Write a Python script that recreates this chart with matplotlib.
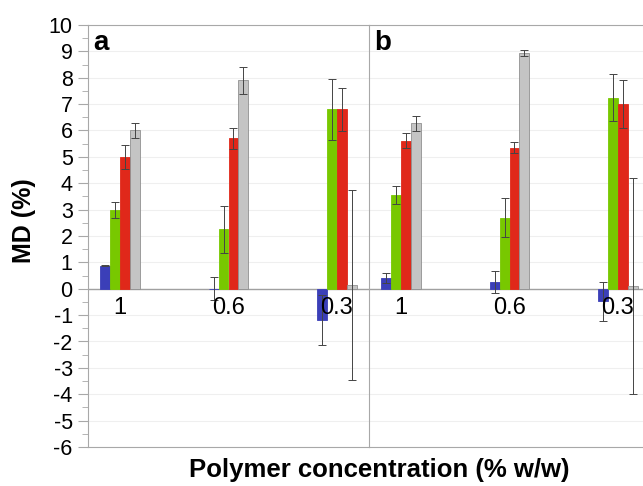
import matplotlib.pyplot as plt
import numpy as np

plt.rcParams['font.family'] = ['Liberation Sans', 'DejaVu Sans']
plt.rcParams['axes.unicode_minus'] = False

# polymer concentrations (% w/w)
categories = ['1', '0.6', '0.3']
colors = ['#3b3fb8', '#78c800', '#e0281a', '#c4c4c4']

# panel a: MD (%) per series, and error bars
a_vals = [[0.88, 0.0, -1.2],
          [3.0, 2.25, 6.8],
          [5.0, 5.7, 6.8],
          [6.0, 7.9, 0.15]]
a_errs = [[0.03, 0.43, 0.95],
          [0.3, 0.9, 1.17],
          [0.45, 0.4, 0.82],
          [0.3, 0.5, 3.6]]

# panel b
b_vals = [[0.4, 0.24, -0.48],
          [3.56, 2.7, 7.25],
          [5.62, 5.35, 7.0],
          [6.27, 8.93, 0.1]]
b_errs = [[0.18, 0.42, 0.74],
          [0.33, 0.73, 0.9],
          [0.28, 0.2, 0.9],
          [0.28, 0.12, 4.1]]

W, H = 643, 486
fig = plt.figure(figsize=(W / 100, H / 100), dpi=100)

def draw_panel(ax, vals, errs, letter, show_y):
    x = np.arange(len(categories))
    w = 0.09
    for i in range(4):
        ax.bar(x + (i - 1.5) * w, vals[i], w, color=colors[i],
               edgecolor='#909090' if i == 3 else colors[i], linewidth=0.6,
               yerr=errs[i], error_kw=dict(ecolor='#444444', elinewidth=0.7,
                                           capsize=3, capthick=0.7), zorder=3)
    ax.set_xlim(-0.295, 2.295)
    ax.set_ylim(-6, 10)
    ax.set_yticks(np.arange(-6, 11, 1))
    ax.set_yticks(np.arange(-6, 10.5, 0.5), minor=True)
    ax.grid(axis='y', color='#efefef', linewidth=0.8, zorder=0)
    ax.axhline(0, color='#a0a0a0', linewidth=1.0, zorder=2)
    ax.set_xticks([])
    for xi, lab in zip(x, categories):
        ax.text(xi, -0.72, lab, ha='center', va='center', fontsize=17, zorder=5)
    for s in ['top', 'left', 'bottom']:
        ax.spines[s].set_color('#a8a8a8')
    ax.spines['right'].set_visible(False)
    ax.tick_params(axis='y', which='both', colors='#a8a8a8', labelcolor='black',
                   labelsize=15.5, length=7, direction='out', pad=4)
    ax.tick_params(axis='y', which='minor', length=4)
    if not show_y:
        ax.tick_params(axis='y', which='both', left=False, labelleft=False)
    ax.text(0.018, 0.94, letter, transform=ax.transAxes, fontsize=20,
            fontweight='bold', ha='left', va='baseline')

ax_a = fig.add_axes([88 / W, 39 / H, 281 / W, 422 / H])
ax_b = fig.add_axes([369 / W, 39 / H, 281 / W, 422 / H])
draw_panel(ax_a, a_vals, a_errs, 'a', True)
draw_panel(ax_b, b_vals, b_errs, 'b', False)

fig.text(24 / W, 1 - 221 / H, 'MD (%)', rotation=90, ha='center', va='center',
         fontsize=18, fontweight='bold')
fig.text(379 / W, 1 - 470 / H, 'Polymer concentration (% w/w)', ha='center',
         va='center', fontsize=18.5, fontweight='bold')

fig.savefig('out.png', dpi=100)
